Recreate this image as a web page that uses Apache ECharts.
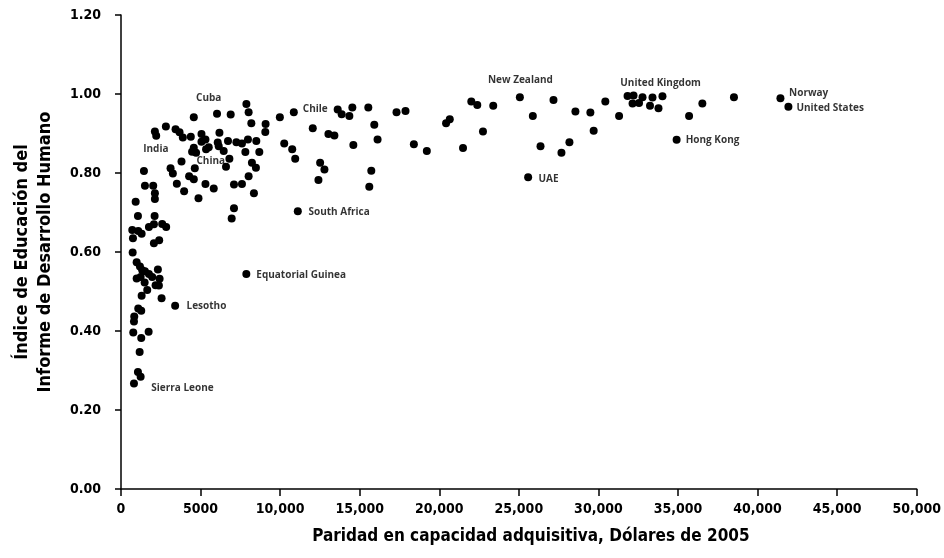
<!DOCTYPE html>
<html>
<head>
<meta charset="utf-8">
<script src="https://cdn.jsdelivr.net/npm/echarts@6/dist/echarts.min.js"></script>
<style>html,body{margin:0;padding:0;background:#fff}#c{width:944px;height:558px}</style>
</head>
<body>
<div id="c"></div>
<script>
// PPP GDP per capita (2005 $) values
const gdpValues = [7880,8020,6034,6893,4574,9982,10859,8190,9086,2820,2130,2212,3428,3678,3885,4386,5057,6185,9067,5307,5057,6078,6723,7250,7601,7977,8503,10257,5514,5345,6141,6454,4574,4468,4718,7814,8691,10759,10947,6811,6598,8227,8478,3803,4637,3114,3258,1441,4280,4574,8020,3509,5307,5827,7099,7601,3966,8353,4869,1504,2024,2130,2130,921,7099,6955,1065,2112,708,1084,1297,1754,2068,2588,2838,752,2068,2400,733,984,1191,1335,1504,2318,984,1234,1754,1961,2425,1485,2174,2381,1648,1297,2550,7876,3402,1084,1272,833,815,771,1272,1736,1172,1065,1234,815,12050,13616,13867,14349,14537,15540,15916,16122,14600,13033,13409,17313,17877,18403,19218,12513,12783,12407,15728,15602,11110,20427,20659,21492,22013,22388,22746,23391,25064,25879,26361,25584,27176,27677,28178,28554,29494,29701,30434,31299,31831,32207,32771,32145,32552,33398,33241,33774,34024,34914,35697,36531,38517,41437,41938];
// HDR Education Index values
const eduValues = [0.975,0.954,0.950,0.948,0.941,0.941,0.954,0.926,0.924,0.918,0.905,0.894,0.911,0.903,0.890,0.892,0.899,0.902,0.904,0.885,0.879,0.877,0.881,0.878,0.875,0.885,0.881,0.875,0.865,0.860,0.868,0.856,0.864,0.854,0.851,0.853,0.853,0.860,0.836,0.836,0.816,0.826,0.813,0.829,0.812,0.812,0.799,0.805,0.792,0.784,0.792,0.773,0.772,0.761,0.771,0.772,0.754,0.749,0.736,0.768,0.768,0.749,0.734,0.727,0.711,0.685,0.691,0.691,0.656,0.653,0.646,0.663,0.670,0.671,0.663,0.635,0.622,0.630,0.599,0.574,0.563,0.554,0.551,0.556,0.533,0.537,0.544,0.537,0.532,0.523,0.516,0.515,0.504,0.489,0.483,0.544,0.464,0.457,0.451,0.437,0.424,0.396,0.382,0.398,0.347,0.296,0.284,0.267,0.913,0.961,0.949,0.944,0.966,0.966,0.922,0.885,0.871,0.899,0.895,0.954,0.957,0.873,0.856,0.826,0.809,0.782,0.806,0.765,0.703,0.926,0.936,0.863,0.981,0.972,0.905,0.970,0.992,0.944,0.868,0.789,0.985,0.851,0.878,0.956,0.953,0.907,0.981,0.944,0.995,0.996,0.992,0.976,0.977,0.991,0.970,0.964,0.994,0.884,0.944,0.976,0.992,0.989,0.968];
// Country annotation labels (text anchor in data units)
const labelNames = ["Cuba","India","China","Chile","South Africa","Equatorial Guinea","Lesotho","Sierra Leone","New Zealand","UAE","United Kingdom","Hong Kong","Norway","United States"];
const labelX = [4718,1397,4743,11423,11780,8503,4117,1899,23059,26236,31374,35484,41982,42440];
const labelY = [0.990,0.860,0.830,0.961,0.701,0.542,0.463,0.255,1.034,0.785,1.027,0.884,1.002,0.965];
// Axis ticks
const xTicks = [0,5000,10000,15000,20000,25000,30000,35000,40000,45000,50000];
const yTicks = [0,0.2,0.4,0.6,0.8,1.0,1.2];

const axisFont = '"DejaVu Sans Condensed","Liberation Sans Narrow",sans-serif';
const points = gdpValues.map((g, i) => [g, eduValues[i]]);
const labels = labelNames.map((n, i) => ({ name: n, value: [labelX[i], labelY[i]] }));

const chart = echarts.init(document.getElementById('c'), null, { renderer: 'canvas' });
chart.setOption({
  animation: false,
  backgroundColor: '#fff',
  grid: { left: 121, right: 24, top: 15, bottom: 69 },
  xAxis: {
    type: 'value', min: xTicks[0], max: xTicks[xTicks.length - 1], interval: 5000,
    splitLine: { show: false },
    axisLine: { show: true, onZero: false, lineStyle: { color: '#000', width: 1.5 } },
    axisTick: { show: true, length: 7, lineStyle: { color: '#000', width: 1.5 } },
    axisLabel: {
      color: '#000', fontFamily: axisFont, fontWeight: 'bold', fontSize: 14, margin: 13,
      formatter: v => v === 0 ? '0' : (v < 10000 ? String(v) : v.toLocaleString('en-US'))
    },
    name: 'Paridad en capacidad adquisitiva, Dólares de 2005',
    nameLocation: 'middle', nameGap: 39, nameMoveOverlap: false,
    nameTextStyle: { color: '#000', fontFamily: axisFont, fontWeight: 'bold', fontSize: 17, padding: [0, 0, 0, 24] }
  },
  yAxis: {
    type: 'value', min: yTicks[0], max: yTicks[yTicks.length - 1], interval: 0.2,
    splitLine: { show: false },
    axisLine: { show: true, onZero: false, lineStyle: { color: '#000', width: 1.5 } },
    axisTick: { show: true, length: 6, lineStyle: { color: '#000', width: 1.5 } },
    axisLabel: {
      color: '#000', fontFamily: axisFont, fontWeight: 'bold', fontSize: 14, margin: 20,
      formatter: v => v.toFixed(2)
    },
    name: 'Índice de Educación del\nInforme de Desarrollo Humano',
    nameLocation: 'middle', nameGap: 64, nameRotate: 90, nameMoveOverlap: false,
    nameTextStyle: { color: '#000', fontFamily: axisFont, fontWeight: 'bold', fontSize: 18, lineHeight: 23 }
  },
  series: [
    {
      type: 'scatter', data: points, symbol: 'circle', symbolSize: 8,
      itemStyle: { color: '#000', opacity: 1 }, silent: true
    },
    {
      type: 'scatter', data: labels, symbolSize: 0, silent: true,
      label: {
        show: true, position: 'inside', formatter: p => p.name,
        align: 'left', verticalAlign: 'middle',
        color: '#000', fontFamily: '"Open Sans","Noto Sans",sans-serif', fontWeight: 'bold', fontSize: 10
      }
    }
  ]
});
</script>
</body>
</html>
